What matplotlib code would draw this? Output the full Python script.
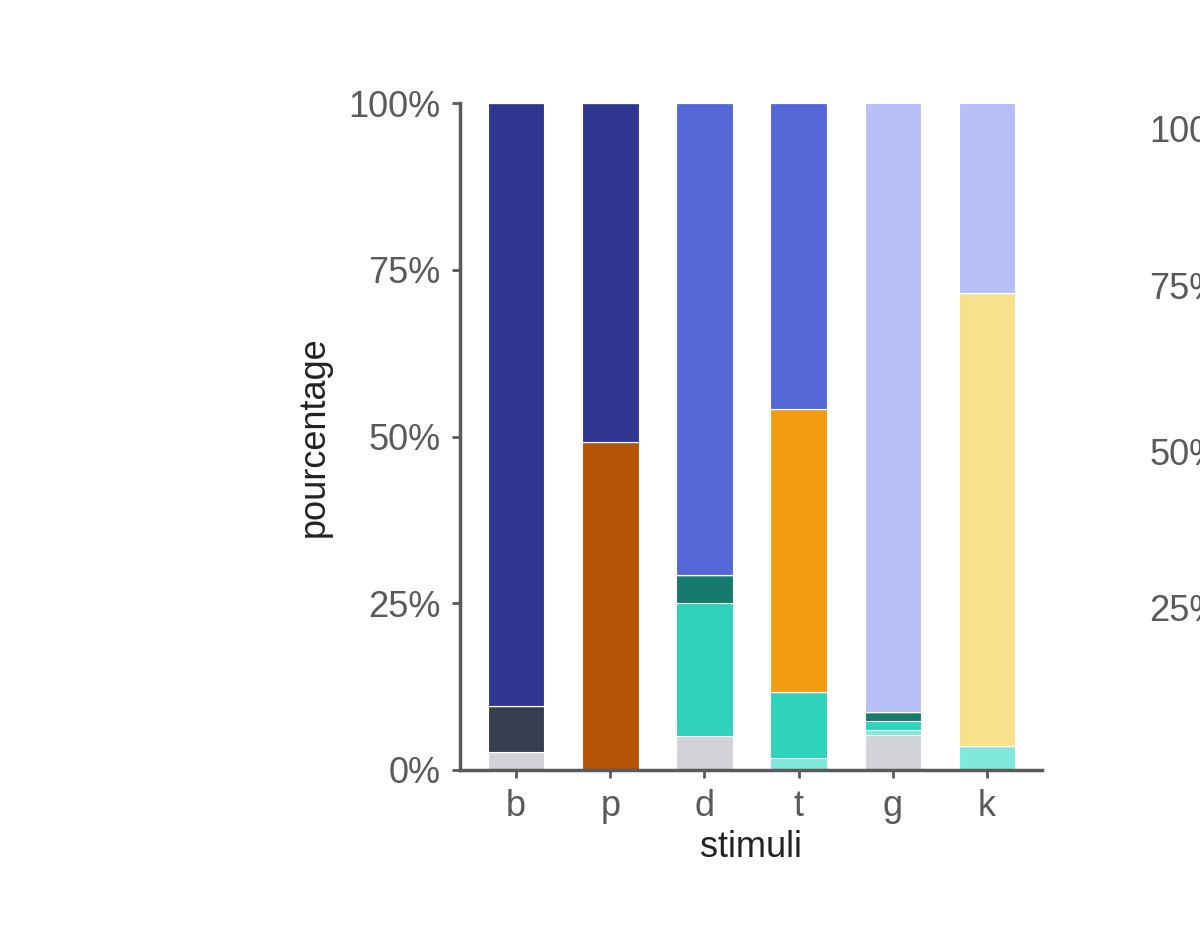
import matplotlib

matplotlib.use("Agg")
import matplotlib.pyplot as plt
import numpy as np

plt.rcParams["font.family"] = ["Liberation Sans", "DejaVu Sans"]

stimuli = ["b", "p", "d", "t", "g", "k"]

# stack order bottom -> top, with colours
categories = ["other", "mint", "turquoise", "darkteal", "slate", "brown",
              "orange", "yellow", "navy", "blue", "lavender"]
colors = {
    "other": "#d2d3d9", "mint": "#7fe9dc", "turquoise": "#2fd2bb",
    "darkteal": "#167a6c", "slate": "#353f4f", "brown": "#b55406",
    "orange": "#f39c12", "yellow": "#f9e08c", "navy": "#2f3690",
    "blue": "#5468d8", "lavender": "#b7bff9",
}

shares = {
    "other":     [2.7, 0, 5.0, 0, 5.2, 0],
    "mint":      [0, 0, 0, 1.8, 0.7, 3.5],
    "turquoise": [0, 0, 20.0, 9.8, 1.4, 0],
    "darkteal":  [0, 0, 4.3, 0, 1.4, 0],
    "slate":     [6.8, 0, 0, 0, 0, 0],
    "brown":     [0, 49.2, 0, 0, 0, 0],
    "orange":    [0, 0, 0, 42.6, 0, 0],
    "yellow":    [0, 0, 0, 0, 0, 68.0],
    "navy":      [90.5, 50.8, 0, 0, 0, 0],
    "blue":      [0, 0, 70.7, 45.8, 0, 0],
    "lavender":  [0, 0, 0, 0, 91.3, 28.5],
}

fig = plt.figure(figsize=(12, 9.48), dpi=100)
ax = fig.add_axes([0.383, 0.188, 0.485, 0.703])

x = np.arange(len(stimuli))
bottom = np.zeros(len(stimuli))
for cat in categories:
    vals = np.array(shares[cat])
    ax.bar(x, vals, bottom=bottom, width=0.6, color=colors[cat],
           edgecolor="white", linewidth=0.8)
    bottom += vals

grey = "#5a5a5a"
ax.set_xlim(-0.6, 5.58)
ax.set_ylim(0, 100)
ax.set_yticks([0, 25, 50, 75, 100])
ax.set_yticklabels(["0%", "25%", "50%", "75%", "100%"])
ax.set_xticks(x)
ax.set_xticklabels(stimuli)
ax.tick_params(colors=grey, labelsize=26, length=6, width=2, pad=8)
for s in ["top", "right"]:
    ax.spines[s].set_visible(False)
for s in ["left", "bottom"]:
    ax.spines[s].set_color(grey)
    ax.spines[s].set_linewidth(2.5)
ax.set_xlabel("stimuli", fontsize=26, color="#222222", labelpad=4)
ax.set_ylabel("pourcentage", fontsize=26, color="#222222", labelpad=12)

# cropped neighbouring panel tick labels
for txt, yy in [("100%", 0.86), ("75%", 0.695), ("50%", 0.52), ("25%", 0.355)]:
    fig.text(0.958, yy, txt, fontsize=26, color=grey, va="center", ha="left")

fig.savefig("out.png", dpi=100)
